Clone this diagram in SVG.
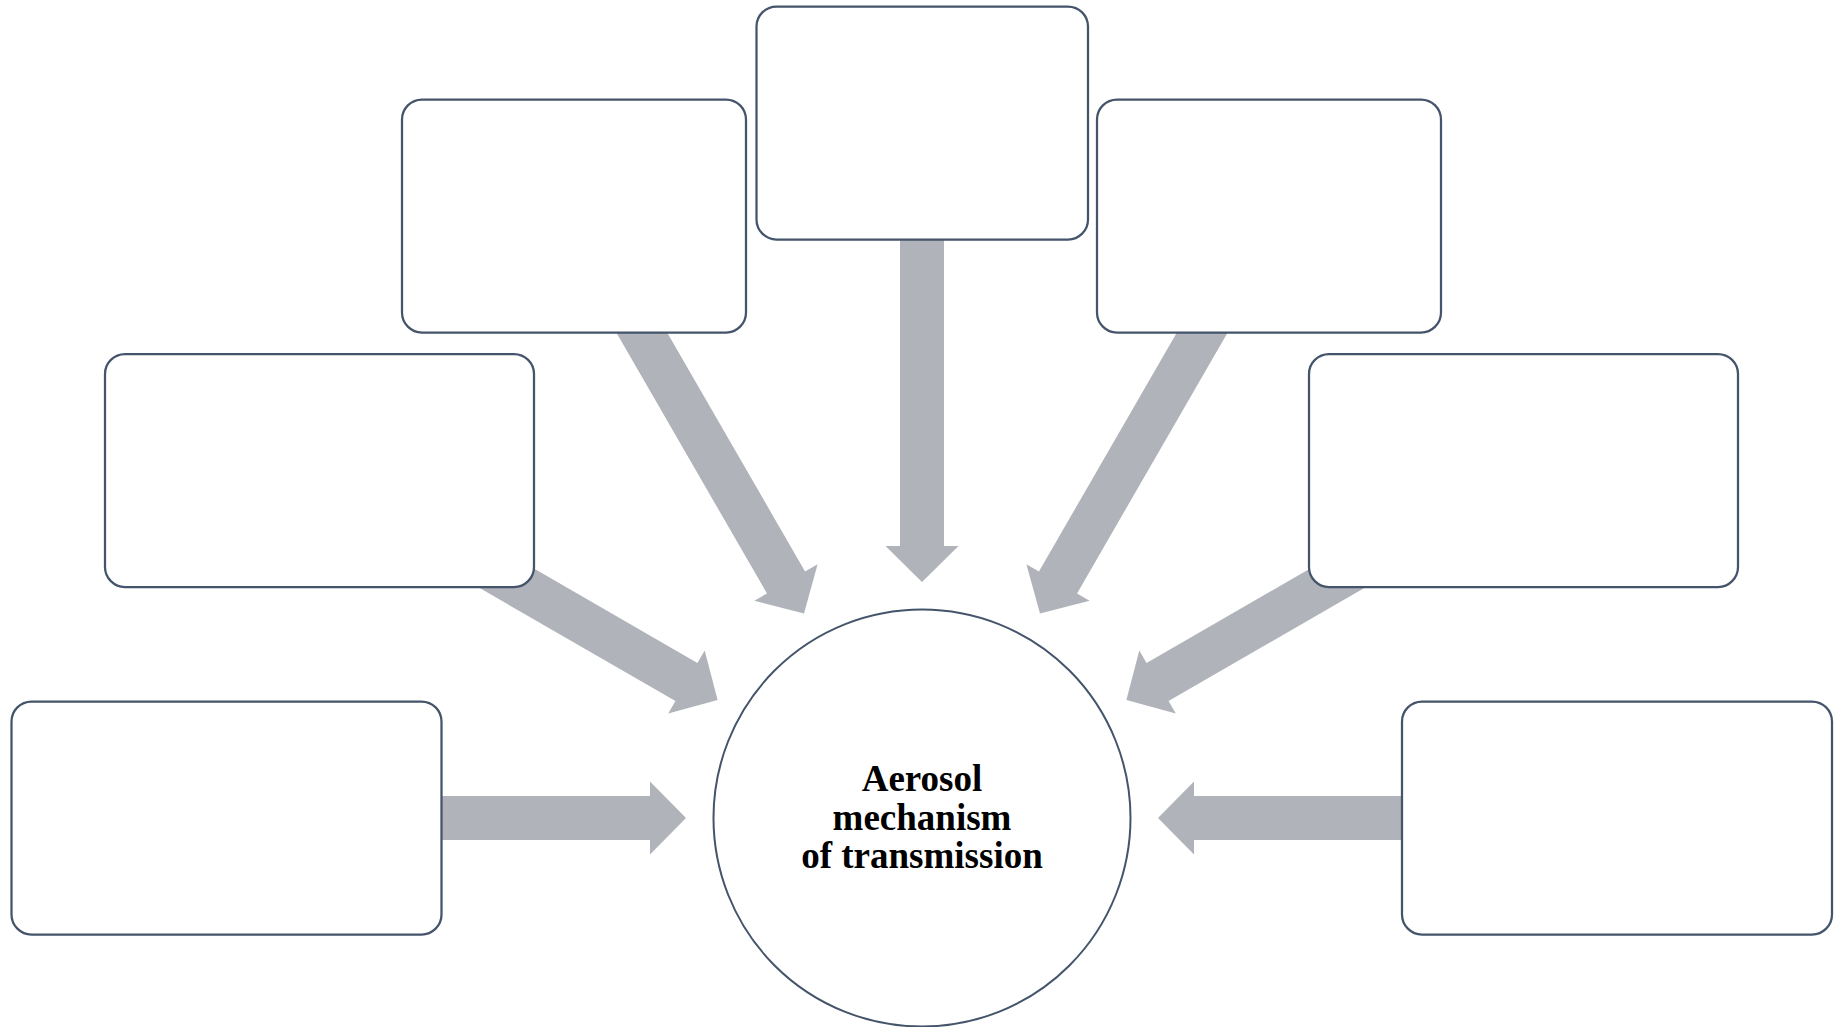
<svg xmlns="http://www.w3.org/2000/svg" width="1834" height="1027" viewBox="0 0 1834 1027">
  <style>
    .box { fill: #ffffff; stroke: #44546a; stroke-width: 2.25; }
    .arrow { fill: #b0b3b9; }
    .label { font-family: "Liberation Serif", "Times New Roman", serif; font-weight: bold; font-size: 37px; fill: #000000; text-anchor: middle; }
  </style>
  <defs>
    <path id="arr" d="M0,0 L-36,-36.5 L-36,-22 L-380,-22 L-380,22 L-36,22 L-36,36.5 Z"/>
  </defs>
  <rect width="1834" height="1027" fill="#ffffff"/>
  <g id="connectors" class="arrow">
    <use href="#arr" transform="translate(922,818) rotate(0) translate(-236,0)"/>
    <use href="#arr" transform="translate(922,818) rotate(30) translate(-236,0)"/>
    <use href="#arr" transform="translate(922,818) rotate(60) translate(-236,0)"/>
    <use href="#arr" transform="translate(922,818) rotate(90) translate(-236,0)"/>
    <use href="#arr" transform="translate(922,818) rotate(120) translate(-236,0)"/>
    <use href="#arr" transform="translate(922,818) rotate(150) translate(-236,0)"/>
    <use href="#arr" transform="translate(922,818) rotate(180) translate(-236,0)"/>
  </g>
  <g id="node-bottom-left"><rect class="box" x="11.5" y="701.5" width="430" height="233" rx="20"/></g>
  <g id="node-mid-left"><rect class="box" x="105" y="354" width="429" height="233" rx="20"/></g>
  <g id="node-upper-left"><rect class="box" x="402" y="99.5" width="344" height="233" rx="20"/></g>
  <g id="node-top"><rect class="box" x="756.5" y="6.5" width="331.5" height="233" rx="20"/></g>
  <g id="node-upper-right"><rect class="box" x="1097" y="99.5" width="344" height="233" rx="20"/></g>
  <g id="node-mid-right"><rect class="box" x="1309" y="354" width="429" height="233" rx="20"/></g>
  <g id="node-bottom-right"><rect class="box" x="1402" y="701.5" width="430" height="233" rx="20"/></g>
  <g id="node-center">
    <circle cx="922" cy="818" r="208.5" fill="#ffffff" stroke="#44546a" stroke-width="2"/>
    <text class="label" x="922" y="791">Aerosol</text>
    <text class="label" x="922" y="830">mechanism</text>
    <text class="label" x="922" y="868">of transmission</text>
  </g>
</svg>
